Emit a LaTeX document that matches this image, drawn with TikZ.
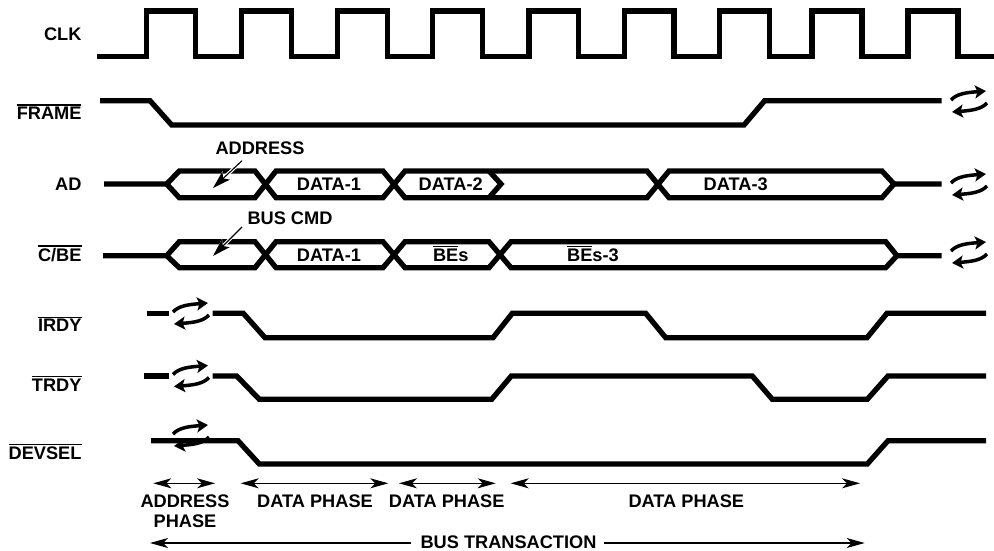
\documentclass[tikz,border=0pt]{standalone}
\usepackage{fontspec}
\setmainfont{Liberation Sans}
\usetikzlibrary{arrows.meta}
\newcommand{\barsig}[1]{\vbox{\hrule height 1.3pt\kern 1.1pt\hbox{#1}}}
\tikzset{
    wave/.style={line width=5.3pt},
    sigtext/.style={inner sep=0pt,font=\fontsize{18.2}{20}\selectfont\bfseries},
    siglabel/.style={sigtext,anchor=base east},
    midlabel/.style={sigtext,anchor=base},
    spanarrow/.style={line width=1.1pt,{Stealth[length=18pt,width=10pt,inset=5pt]}-{Stealth[length=18pt,width=10pt,inset=5pt]}},
    onearrow/.style={line width=1.1pt,-{Stealth[length=18pt,width=10pt,inset=5pt]}},
    leader/.style={line width=1.1pt,preaction={draw=white,line width=3.5pt},-{Stealth[length=18pt,width=11pt,inset=4pt]}},
    turnover/.pic={
        \draw[line width=3.5pt,-{Stealth[length=11pt,width=13pt,inset=2.5pt]}](-18, -1.5) .. controls (-12, -8) and (-2, -9) .. (17, -10.5);
        \draw[line width=3.5pt,-{Stealth[length=11pt,width=13pt,inset=2.5pt]}](18, 1.5) .. controls (12, 8) and (2, 9) .. (-17, 10.5);
    }
}
\begin{document}
\begin{tikzpicture}[x=1pt,y=-1pt]
        \useasboundingbox (0, 0) rectangle (994, 551);
        \draw[wave](97, 56.5) -- (146.7, 56.5) -- (146.7, 11) -- (195.7, 11) -- (195.7, 56.5) -- (241.7, 56.5) -- (241.7, 11) -- (291.7, 11) -- (291.7, 56.5) -- (337.7, 56.5) -- (337.7, 11) -- (387.7, 11) -- (387.7, 56.5) -- (432.7, 56.5) -- (432.7, 11) -- (482.7, 11) -- (482.7, 56.5) -- (529, 56.5) -- (529, 11) -- (578.7, 11) -- (578.7, 56.5) -- (624.7, 56.5) -- (624.7, 11) -- (674, 11) -- (674, 56.5) -- (719.7, 56.5) -- (719.7, 11) -- (769.7, 11) -- (769.7, 56.5) -- (812, 56.5) -- (812, 11) -- (862, 11) -- (862, 56.5) -- (908, 56.5) -- (908, 11) -- (958, 11) -- (958, 56.5) -- (994, 56.5);
        \draw[wave](100, 100.7) -- (150, 100.7) -- (171.7, 125) -- (744, 125) -- (764.7, 100.7) -- (941.7, 100.7);
        \draw[wave](104, 184) -- (166.7, 184) -- (179.3, 171) -- (255, 171) -- (276, 197.7) -- (383, 197.7) -- (405, 171) -- (647, 171) -- (669, 197.7) -- (882, 197.7) -- (894, 184) -- (941.7, 184);
        \draw[wave](166.7, 184) -- (179.3, 197.7) -- (255, 197.7) -- (276, 171) -- (383, 171) -- (405, 197.7) -- (647, 197.7) -- (669, 171) -- (882, 171) -- (894, 184);
        \draw[wave](489, 171) -- (501, 184) -- (489, 197.7);
        \draw[wave](103, 255.7) -- (166.7, 255.7) -- (179.3, 241.7) -- (255, 241.7) -- (276, 267.7) -- (383, 267.7) -- (405, 241.7) -- (489, 241.7) -- (511, 267.7) -- (885.7, 267.7) -- (897, 255.7) -- (941.7, 255.7);
        \draw[wave](166.7, 255.7) -- (179.3, 267.7) -- (255, 267.7) -- (276, 241.7) -- (383, 241.7) -- (405, 267.7) -- (489, 267.7) -- (511, 241.7) -- (885.7, 241.7) -- (897, 255.7);
        \draw[wave](146.7, 313.3) -- (169, 313.3);
        \draw[wave](212.7, 313.3) -- (243.3, 313.3) -- (265, 337.7) -- (493, 337.7) -- (512.3, 313.3) -- (645.7, 313.3) -- (665.7, 337.7) -- (867, 337.7) -- (887, 313.3) -- (986, 313.3);
        \draw[wave](144, 376) -- (169, 376);
        \draw[wave](212.7, 376) -- (236.7, 376) -- (259.3, 399.3) -- (491.7, 399.3) -- (511.3, 376) -- (752.3, 376) -- (772.3, 399.3) -- (867.3, 399.3) -- (888, 376) -- (986, 376);
        \draw[wave](151, 440.7) -- (238, 440.7) -- (259.3, 464) -- (867.3, 464) -- (888, 440.7) -- (986, 440.7);
        \pic at (969, 101.5) {turnover};
        \pic at (969, 184.5) {turnover};
        \pic at (969, 252.5) {turnover};
        \pic at (191, 313.5) {turnover};
        \pic at (191, 376) {turnover};
        \pic at (191, 435.5) {turnover};
        \node[siglabel] (clk) at (81.7, 40.7) {CLK};
        \node[siglabel] (frame) at (81.7, 119.3) {\barsig{FRAME}};
        \node[siglabel] (ad) at (81.7, 190.7) {AD};
        \node[siglabel] (cbe) at (81.7, 261) {\barsig{C/BE}};
        \node[siglabel] (irdy) at (81.7, 331.7) {\barsig{IRDY}};
        \node[siglabel] (trdy) at (81.7, 391) {\barsig{TRDY}};
        \node[siglabel] (devsel) at (81.7, 459.3) {\barsig{DEVSEL}};
        \node[midlabel] (address) at (260, 154.3) {ADDRESS};
        \node[midlabel] (buscmd) at (290, 224) {BUS CMD};
        \node[midlabel] (dataone) at (329, 190.7) {DATA-1};
        \node[midlabel] (datatwo) at (450.7, 190.7) {DATA-2};
        \node[midlabel] (datathree) at (735.7, 190.7) {DATA-3};
        \node[midlabel] (cbeone) at (329, 261) {DATA-1};
        \node[midlabel] (bes) at (450.7, 261) {\barsig{BE}\hbox{s}};
        \node[midlabel] (besthree) at (593, 261) {\barsig{BE}\hbox{s-3}};
        \coordinate (addrfrom) at (242, 160.7);
        \coordinate (addrto) at (213, 188);
        \coordinate (cmdfrom) at (242, 227);
        \coordinate (cmdto) at (213, 256);
        \draw[leader](addrfrom) -- (addrto);
        \draw[leader](cmdfrom) -- (cmdto);
        \node[midlabel] (addrphase) at (185, 507.3) {ADDRESS};
        \node[midlabel] (addrphasetwo) at (185, 527.7) {PHASE};
        \node[midlabel] (phaseone) at (315, 507.3) {DATA PHASE};
        \node[midlabel] (phasetwo) at (446.7, 507.3) {DATA PHASE};
        \node[midlabel] (phasethree) at (686.3, 507.3) {DATA PHASE};
        \coordinate (spana) at (153.3, 483.3);
        \coordinate (spanb) at (215, 483.3);
        \coordinate (spanc) at (240.7, 483.3);
        \coordinate (spand) at (388.3, 483.3);
        \coordinate (spane) at (399, 483.3);
        \coordinate (spanf) at (495.7, 483.3);
        \coordinate (spang) at (510.7, 483.3);
        \coordinate (spanh) at (860, 483.3);
        \draw[spanarrow](spana) -- (spanb);
        \draw[spanarrow](spanc) -- (spand);
        \draw[spanarrow](spane) -- (spanf);
        \draw[spanarrow](spang) -- (spanh);
        \node[midlabel] (bus) at (508.5, 548) {BUS TRANSACTION};
        \coordinate (busleft) at (150, 543);
        \coordinate (busright) at (864.7, 543);
        \draw[onearrow](bus.west |- busleft) ++(-9.5, 0) -- (busleft);
        \draw[onearrow](bus.east |- busright) ++(7.5, 0) -- (busright);
    \end{tikzpicture}
\end{document}
